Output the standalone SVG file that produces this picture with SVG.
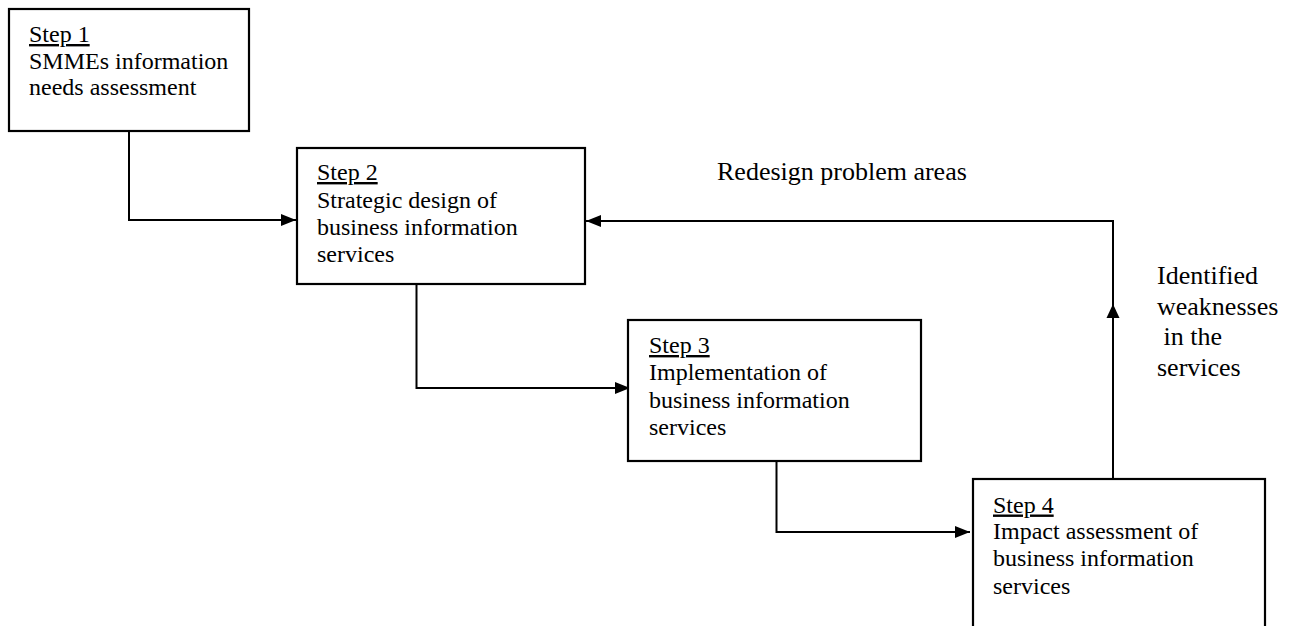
<svg xmlns="http://www.w3.org/2000/svg" width="1297" height="626" viewBox="0 0 1297 626">
<style>
.box{fill:#fff;stroke:#000;stroke-width:2.2}
.t{font-family:"Liberation Serif","Times New Roman",serif;font-size:24px;fill:#000}
.lbl{font-family:"Liberation Serif","Times New Roman",serif;font-size:26px;fill:#000}
.u{text-decoration:underline}
.c{fill:none;stroke:#000;stroke-width:2}
</style>
<defs>
<marker id="ah" markerUnits="userSpaceOnUse" markerWidth="16" markerHeight="12" refX="15" refY="6" orient="auto">
<path d="M0,0 L15,6 L0,12 Z" fill="#000"/>
</marker>
</defs>
<rect width="1297" height="626" fill="#fff"/>
<g id="connectors">
<polyline class="c" points="129,131 129,220 296,220" marker-end="url(#ah)"/>
<polyline class="c" points="416.5,284 416.5,388 630,388" marker-end="url(#ah)"/>
<polyline class="c" points="776.5,461 776.5,532 970,532" marker-end="url(#ah)"/>
<polyline class="c" points="1113,479 1113,221 586,221" marker-end="url(#ah)"/>
<path d="M1113,304 L1106.5,318 L1119.5,318 Z" fill="#000"/>
</g>
<g id="step1">
<rect class="box" x="9" y="9" width="240" height="122"/>
<text class="t" x="29" y="42"><tspan class="u">Step 1</tspan><tspan x="29" y="68.5">SMMEs information</tspan><tspan x="29" y="95">needs assessment</tspan></text>
</g>
<g id="step2">
<rect class="box" x="297" y="148" width="288" height="136"/>
<text class="t" x="317" y="180"><tspan class="u">Step 2</tspan><tspan x="317" y="208">Strategic design of</tspan><tspan x="317" y="235">business information</tspan><tspan x="317" y="262">services</tspan></text>
</g>
<g id="step3">
<rect class="box" x="628" y="320" width="293" height="141"/>
<text class="t" x="649" y="353"><tspan class="u">Step 3</tspan><tspan x="649" y="380">Implementation of</tspan><tspan x="649" y="408">business information</tspan><tspan x="649" y="435">services</tspan></text>
</g>
<g id="step4">
<rect class="box" x="973" y="479" width="292" height="170"/>
<text class="t" x="993" y="512.5"><tspan class="u">Step 4</tspan><tspan x="993" y="538.5">Impact assessment of</tspan><tspan x="993" y="566">business information</tspan><tspan x="993" y="594">services</tspan></text>
</g>
<g id="labels">
<text class="lbl" x="717" y="180">Redesign problem areas</text>
<text class="lbl" x="1157" y="284" xml:space="preserve"><tspan>Identified</tspan><tspan x="1157" y="315">weaknesses</tspan><tspan x="1157" y="345"> in the</tspan><tspan x="1157" y="376">services</tspan></text>
</g>
</svg>
